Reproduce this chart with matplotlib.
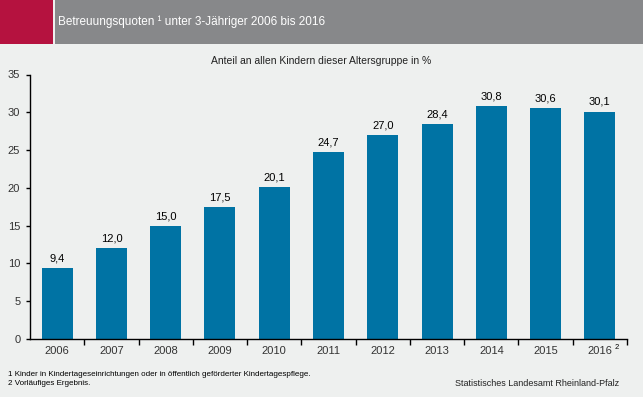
import matplotlib
matplotlib.use("Agg")
import matplotlib.pyplot as plt
from matplotlib.patches import Rectangle

plt.rcParams['font.family'] = ['Liberation Sans', 'DejaVu Sans']

years = ['2006', '2007', '2008', '2009', '2010', '2011', '2012', '2013', '2014', '2015', '2016']
quoten = [9.4, 12.0, 15.0, 17.5, 20.1, 24.7, 27.0, 28.4, 30.8, 30.6, 30.1]
yticks = [0, 5, 10, 15, 20, 25, 30, 35]

bg = '#eef0ef'
barColor = '#0073a4'
W, H = 643, 397

fig = plt.figure(figsize=(W / 100, H / 100), dpi=100, facecolor=bg)

# header band
fig.patches.append(Rectangle((0, 1 - 44 / H), 53 / W, 44 / H, transform=fig.transFigure,
	facecolor='#b5123f', edgecolor='none'))
fig.patches.append(Rectangle((55 / W, 1 - 44 / H), 1 - 55 / W, 44 / H, transform=fig.transFigure,
	facecolor='#87888a', edgecolor='none'))
fig.text(58 / W, 1 - 22 / H, 'Betreuungsquoten ¹ unter 3-Jähriger 2006 bis 2016',
	color='white', fontsize=8.5, va='center', ha='left')

fig.text(321 / W, 1 - 61 / H, 'Anteil an allen Kindern dieser Altersgruppe in %',
	fontsize=7.5, color='#222222', ha='center', va='center')

ax = fig.add_axes([30 / W, 1 - 339 / H, (627 - 30) / W, (339 - 74.5) / H])
ax.set_facecolor(bg)
x = list(range(len(years)))
bars = ax.bar(x, quoten, width=0.57, color=barColor)
for xi, v in zip(x, quoten):
	ax.text(xi, v + 0.6, ('%.1f' % v).replace('.', ','), ha='center', va='bottom',
		fontsize=8, color='black')

ax.set_xlim(-0.5, len(years) - 0.5)
ax.set_ylim(0, 35)
ax.set_yticks(yticks)
ax.set_yticklabels([str(t) for t in yticks], fontsize=8, color='#333333')
ax.set_xticks(x)
ax.set_xticklabels(years, fontsize=8, color='#333333')
ax.set_xticks([i + 0.5 for i in x], minor=True)
ax.tick_params(axis='x', which='major', length=0, pad=5)
ax.tick_params(axis='x', which='minor', length=4, width=1, direction='out')
ax.tick_params(axis='y', length=3, width=1, direction='out', pad=4)
for s in ['top', 'right']:
	ax.spines[s].set_visible(False)
for s in ['left', 'bottom']:
	ax.spines[s].set_linewidth(1)
	ax.spines[s].set_color('black')

# footnote mark at 2016
ax.annotate('2', xy=(10, 0), xycoords=('data', 'axes fraction'), xytext=(10.5, -6),
	textcoords='offset points', fontsize=5.5, va='center', ha='left')

fig.text(8 / W, 1 - 375 / H, '1 Kinder in Kindertageseinrichtungen oder in öffentlich geförderter Kindertagespflege.',
	fontsize=5.8, va='center', ha='left')
fig.text(8 / W, 1 - 383.5 / H, '2 Vorläufiges Ergebnis.', fontsize=5.8, va='center', ha='left')
fig.text(619 / W, 1 - 384 / H, 'Statistisches Landesamt Rheinland-Pfalz', fontsize=6.5,
	va='center', ha='right', color='#222222')

fig.savefig('out.png', dpi=100, facecolor=bg)
